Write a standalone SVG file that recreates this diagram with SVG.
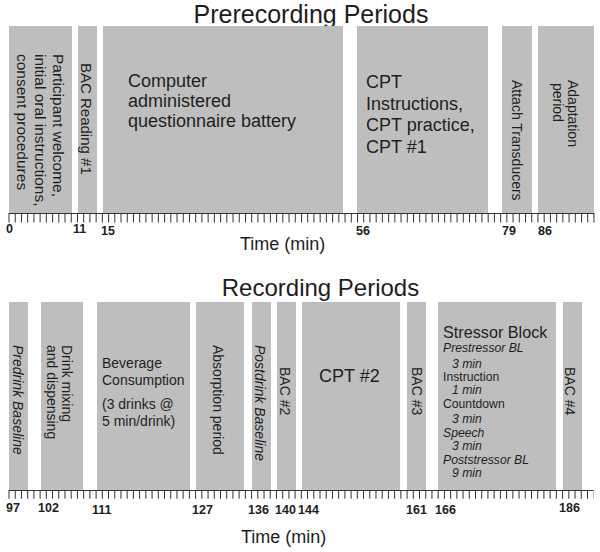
<svg xmlns="http://www.w3.org/2000/svg" width="600" height="552" viewBox="0 0 600 552">
<style>
text{font-family:"Liberation Sans",Arial,sans-serif;fill:#1e1e1e}
.blk{fill:#bebebe}
.t25{font-size:25px}
.t18{font-size:18px}
.t15{font-size:15.5px}
.t14{font-size:14px}
.t12{font-size:12.2px}
.it{font-style:italic}
.lbl{font-size:12.5px;font-weight:bold}
.axis{stroke:#333;stroke-width:1;fill:none}
</style>
<rect width="600" height="552" fill="#fff"/>
<text class="t25" x="311" y="23" text-anchor="middle">Prerecording Periods</text>
<text class="t25" x="320.5" y="296" text-anchor="middle" style="font-size:24px">Recording Periods</text>

<g id="top-blocks">
<g id="welcome"><rect class="blk" x="9" y="26" width="63" height="187"/>
<text class="t15" transform="translate(53,54) rotate(90)"><tspan x="0" y="0">Participant welcome,</tspan><tspan x="0" y="18">initial oral instructions,</tspan><tspan x="0" y="36">consent procedures</tspan></text></g>
<g id="bac1"><rect class="blk" x="78" y="26" width="19" height="187"/>
<text class="t15" style="font-size:15px" transform="translate(81,63) rotate(90)">BAC Reading #1</text></g>
<g id="questionnaire"><rect class="blk" x="103" y="26" width="240" height="187"/>
<text class="t18"><tspan x="128" y="87">Computer</tspan><tspan x="128" y="107">administered</tspan><tspan x="128" y="127">questionnaire battery</tspan></text></g>
<g id="cpt1"><rect class="blk" x="357" y="26" width="131" height="187"/>
<text class="t18"><tspan x="366" y="88">CPT</tspan><tspan x="366" y="110">Instructions,</tspan><tspan x="366" y="131">CPT practice,</tspan><tspan x="366" y="153">CPT #1</tspan></text></g>
<g id="transducers"><rect class="blk" x="502" y="26" width="30" height="187"/>
<text class="t14" transform="translate(512,80) rotate(90)">Attach Transducers</text></g>
<g id="adaptation"><rect class="blk" x="538" y="26" width="56" height="187"/>
<text class="t14" transform="translate(568,80) rotate(90)"><tspan x="0" y="0">Adaptation</tspan><tspan x="3" y="15">period</tspan></text></g>
</g>

<g id="bottom-blocks">
<g id="predrink"><rect class="blk" x="9" y="302" width="19" height="188"/>
<text class="t14 it" transform="translate(13,345) rotate(90)">Predrink Baseline</text></g>
<g id="mixing"><rect class="blk" x="41" y="302" width="42" height="188"/>
<text class="t14" transform="translate(62,345) rotate(90)"><tspan x="0" y="0">Drink mixing</tspan><tspan x="0" y="15">and dispensing</tspan></text></g>
<g id="beverage"><rect class="blk" x="97" y="302" width="93" height="188"/>
<text class="t14"><tspan x="102" y="368">Beverage</tspan><tspan x="102" y="385">Consumption</tspan><tspan x="102" y="409">(3 drinks @</tspan><tspan x="102" y="426">5 min/drink)</tspan></text></g>
<g id="absorption"><rect class="blk" x="196" y="302" width="48" height="188"/>
<text class="t14" transform="translate(213,345) rotate(90)">Absorption period</text></g>
<g id="postdrink"><rect class="blk" x="252" y="302" width="19" height="188"/>
<text class="t14 it" transform="translate(255,345) rotate(90)">Postdrink Baseline</text></g>
<g id="bac2"><rect class="blk" x="277" y="302" width="19" height="188"/>
<text class="t14" transform="translate(280,367) rotate(90)">BAC #2</text></g>
<g id="cpt2"><rect class="blk" x="302" y="302" width="98" height="188"/>
<text class="t18" x="319" y="382">CPT #2</text></g>
<g id="bac3"><rect class="blk" x="407" y="302" width="19" height="188"/>
<text class="t14" transform="translate(412,367) rotate(90)">BAC #3</text></g>
<g id="stressor"><rect class="blk" x="438" y="302" width="118" height="188"/>
<text style="font-size:16.2px" x="443" y="338">Stressor Block</text>
<text class="t12"><tspan class="it" x="443" y="352">Prestressor BL</tspan><tspan class="it" x="452" y="367.5">3 min</tspan><tspan x="443" y="381">Instruction</tspan><tspan class="it" x="452" y="394">1 min</tspan><tspan x="443" y="408">Countdown</tspan><tspan class="it" x="452" y="423">3 min</tspan><tspan class="it" x="443" y="436.5">Speech</tspan><tspan class="it" x="452" y="450">3 min</tspan><tspan class="it" x="443" y="464">Poststressor BL</tspan><tspan class="it" x="452" y="477">9 min</tspan></text></g>
<g id="bac4"><rect class="blk" x="563" y="302" width="19" height="188"/>
<text class="t14" transform="translate(565,367) rotate(90)">BAC #4</text></g>
</g>

<g id="connectors">
<line class="axis" x1="8.5" y1="213.5" x2="594.5" y2="213.5"/>
<line x1="8.5" y1="218" x2="594.5" y2="218" stroke="#333" stroke-width="9" stroke-dasharray="1 5.223"/>
<line class="axis" x1="8.5" y1="490.5" x2="593.5" y2="490.5"/>
<line x1="8.5" y1="494.75" x2="593.5" y2="494.75" stroke="#333" stroke-width="8" stroke-dasharray="1 5.22"/>
</g>

<g id="axis-labels">
<text class="lbl" x="6" y="233">0</text>
<text class="lbl" x="73" y="233">11</text>
<text class="lbl" x="101" y="235">15</text>
<text class="lbl" x="356" y="235">56</text>
<text class="lbl" x="502" y="235">79</text>
<text class="lbl" x="538" y="235">86</text>
<text class="t18" x="240" y="250">Time (min)</text>
<text class="lbl" x="6" y="512">97</text>
<text class="lbl" x="38" y="512">102</text>
<text class="lbl" x="92" y="514">111</text>
<text class="lbl" x="192" y="514">127</text>
<text class="lbl" x="248" y="514">136</text>
<text class="lbl" x="275" y="514">140</text>
<text class="lbl" x="298" y="514">144</text>
<text class="lbl" x="406" y="514">161</text>
<text class="lbl" x="435" y="514">166</text>
<text class="lbl" x="559" y="512">186</text>
<text class="t18" x="241" y="543">Time (min)</text>
</g>
</svg>
